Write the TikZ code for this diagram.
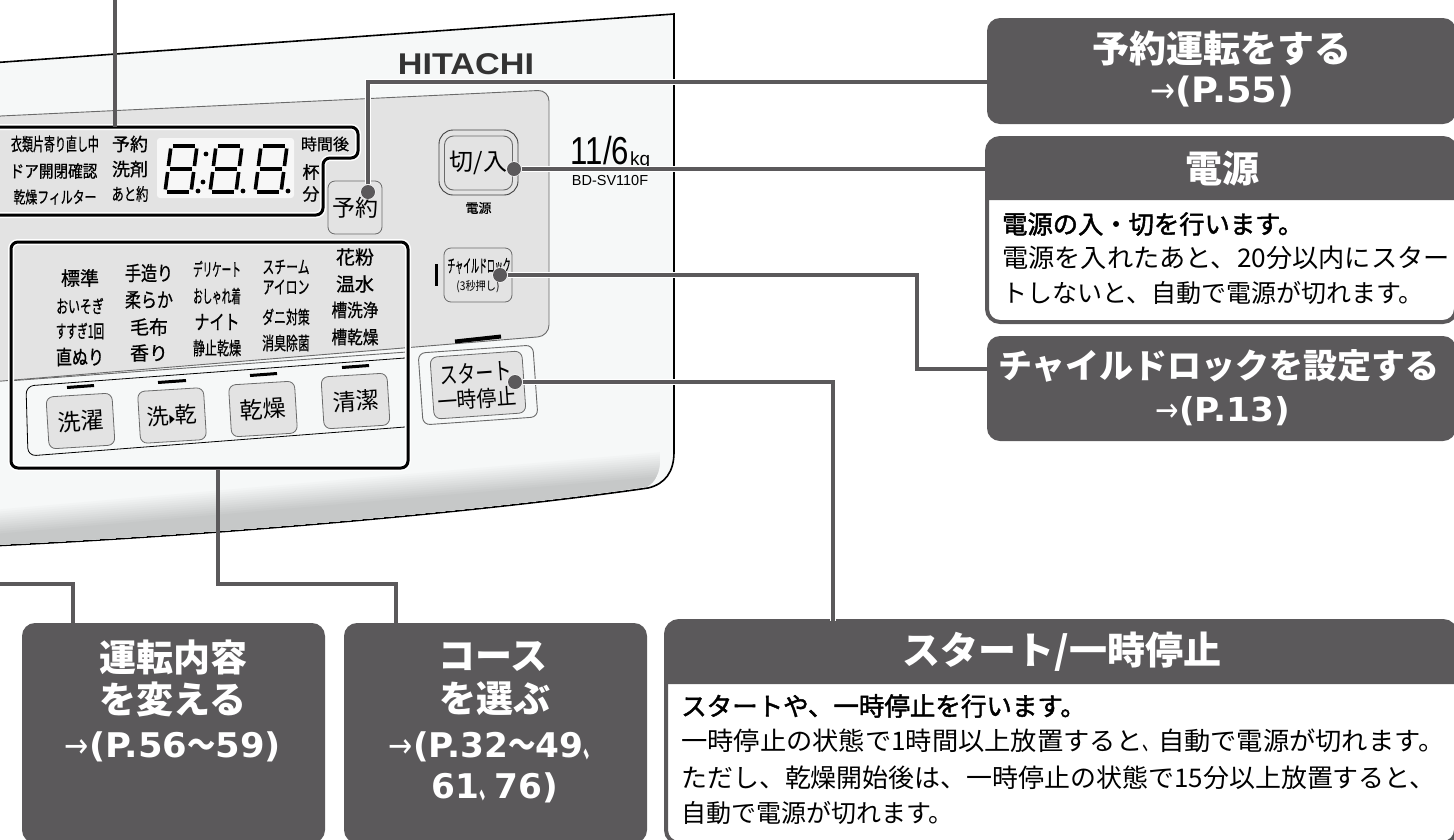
\documentclass[tikz,border=0pt]{standalone}
\usepackage{fontspec}
\setmainfont{Noto Sans CJK JP}
\newfontfamily\latinfont{Liberation Sans}
\newfontfamily\symfont{DejaVu Sans}
\newfontfamily\panelfont[FakeBold=0.8]{Noto Sans CJK JP}
\newfontfamily\medfont[FakeBold=1.8]{Noto Sans CJK JP}
\newcommand{\fs}[1]{\fontsize{#1}{#1}\selectfont}
\newcommand{\pf}[1]{\panelfont\fontsize{#1}{#1}\selectfont}
\newcommand{\nrw}[2]{\scalebox{#1}[1]{#2}}
\newcommand{\ltn}[1]{{\symfont\bfseries #1}}
\newcommand{\arw}{{\mdseries\symfont\nrw{.85}{→}}}
\newcommand{\segdigit}[2]{%
\foreach \ax/\ay/\bx/\by in {3.5/1.8/26/1.8,3.5/25/26/25,3.5/48.2/26/48.2,1.8/4.5/1.8/22,1.8/28/1.8/45.5,27.8/4.5/27.8/22,27.8/28/27.8/45.5}{%
\draw[segline] ({#1+\ax+(50-\ay)*.13},{#2+\ay}) -- ({#1+\bx+(50-\by)*.13},{#2+\by});}}
\definecolor{darkbox}{HTML}{5B595B}
\definecolor{panelfill}{HTML}{F6F8F8}
\definecolor{panelgray}{HTML}{E3E3E3}
\definecolor{shadowgray}{HTML}{C6C8C8}
\definecolor{btnline}{HTML}{6A6A6A}
\tikzset{
 lab/.style={inner sep=0pt,text=black},
 btn/.style={draw=btnline,fill=panelgray,line width=0.8pt,rounded corners=7pt,inner sep=0pt},
 bar/.style={black,line width=3pt},
 segline/.style={black,line width=3.6pt},
 conn/.style={darkbox,line width=3.2pt,preaction={draw=white,line width=6pt}},
 plainconn/.style={darkbox,line width=3.2pt},
 knob/.style={circle,fill=darkbox,draw=white,line width=1.2pt,minimum size=14pt,inner sep=0pt},
 frameline/.style={black,line width=3pt,rounded corners=7pt,preaction={draw=white,line width=6pt}},
 darkhead/.style={rectangle,fill=darkbox,rounded corners=13pt,inner sep=0pt},
 whitebox/.style={rectangle,draw=darkbox,fill=white,line width=4pt,rounded corners=13pt,inner sep=0pt},
 headtxt/.style={inner sep=0pt,text=white,font=\bfseries},
}
\begin{document}
\begin{tikzpicture}[x=1pt,y=-1pt]
\useasboundingbox (0,0) rectangle (1454,839);
\fill[white] (0,0) rectangle (1454,839);
\draw[black,fill=panelfill,line width=1.6pt] (-10,63) -- (674,14) -- (674,452) .. controls (674,472) and (665,484) .. (648,488) .. controls (480,512) and (220,535) .. (-10,546) -- cycle;
\begin{scope}
\clip (-10,495) -- (660,440) -- (660,458) .. controls (660,472) and (655,482) .. (647,486.5) .. controls (480,511) and (220,534) .. (-10,545) -- cycle;
\foreach \i in {0,...,12}{
\pgfmathsetmacro{\pct}{\i*100/12}
\fill[shadowgray!\pct!panelfill] (-10,{508+\i*2.2}) -- (660,{450+\i*2.2}) -- (660,600) -- (-10,600) -- cycle;
}
\end{scope}
\draw[btnline,fill=panelgray,line width=0.9pt,rounded corners=11pt] (-10,116.5) -- (549,90) -- (549,336) -- (-10,382) -- cycle;
\fill[panelfill] (407,352) -- (14,380.5) -- (14,388) -- (407,362) -- cycle;
\draw[btnline,line width=0.9pt] (14,380.5) -- (407,352);
\draw[black,fill=panelfill,line width=0.8pt,rounded corners=8pt] (405,358) -- (26,386) -- (28,456) -- (405,427);
\node[inner sep=0pt,text=black!80,font=\latinfont\bfseries\fs{30}] (logo) at (466,64) {\nrw{1.14}{HITACHI}};
\node[lab,font=\latinfont\fs{39}] (modelsize) at (600,151) {\nrw{.8}{11/6}};
\node[lab,font=\latinfont\fs{19},anchor=west] (modelkg) at (630,161) {kg};
\node[lab,font=\latinfont\fs{14.5}] (modelname) at (610,181) {BD-SV110F};
\draw[frameline] (-10,127) -- (358,127) -- (358,158) -- (323,158) -- (323,215) -- (-10,215);
\node[fill=white!70!panelgray,rounded corners=3pt,minimum width=137pt,minimum height=60pt,inner sep=0pt] (disp) at (225.5,168) {};
\segdigit{163}{144}
\segdigit{208}{144}
\segdigit{253}{144}
\foreach \cx/\cy in {206/154,203/182,198/191,243/191,288/191}{
\fill[black] (\cx,\cy) circle (2.4pt);
}
\node[lab,font=\pf{18}] (d1) at (55,144) {\nrw{.61}{衣類片寄り直し中}};
\node[lab,font=\pf{17}] (d2) at (53.5,171) {\nrw{.86}{ドア開閉確認}};
\node[lab,font=\pf{16.5}] (d3) at (55,197) {\nrw{.72}{乾燥フィルター}};
\node[lab,font=\pf{18}] (d4) at (130,144) {予約};
\node[lab,font=\pf{18}] (d5) at (130,169) {洗剤};
\node[lab,font=\pf{17}] (d6) at (130,194) {\nrw{.72}{あと約}};
\node[lab,font=\pf{16}] (d7) at (325,144) {時間後};
\node[lab,font=\pf{17}] (d8) at (311,172) {杯};
\node[lab,font=\pf{17}] (d9) at (311,194) {分};
\node[lab,font=\pf{19}] (c1a) at (80,278) {標準};
\node[lab,font=\pf{18}] (c1b) at (80,306) {\nrw{.66}{おいそぎ}};
\node[lab,font=\pf{18}] (c1c) at (80,331) {\nrw{.59}{すすぎ1回}};
\node[lab,font=\pf{20}] (c1d) at (80,357) {\nrw{.8}{直ぬり}};
\node[lab,font=\pf{20}] (c2a) at (149,273) {\nrw{.8}{手造り}};
\node[lab,font=\pf{20}] (c2b) at (149,300) {\nrw{.8}{柔らか}};
\node[lab,font=\pf{19}] (c2c) at (149,327) {毛布};
\node[lab,font=\pf{19}] (c2d) at (149,353) {香り};
\node[lab,font=\pf{18}] (c3a) at (217,269) {\nrw{.53}{デリケート}};
\node[lab,font=\pf{18}] (c3b) at (217,296) {\nrw{.53}{おしゃれ着}};
\node[lab,font=\pf{20}] (c3c) at (217,322) {\nrw{.75}{ナイト}};
\node[lab,font=\pf{18}] (c3d) at (217,348) {\nrw{.67}{静止乾燥}};
\node[lab,font=\pf{18}] (c4a) at (286,267) {\nrw{.66}{スチーム}};
\node[lab,font=\pf{18}] (c4b) at (286,287) {\nrw{.66}{アイロン}};
\node[lab,font=\pf{18}] (c4c) at (286,317) {\nrw{.66}{ダニ対策}};
\node[lab,font=\pf{18}] (c4d) at (286,343) {\nrw{.66}{消臭除菌}};
\node[lab,font=\pf{19}] (c5a) at (355,257) {花粉};
\node[lab,font=\pf{19}] (c5b) at (355,284) {温水};
\node[lab,font=\pf{18}] (c5c) at (355,310) {\nrw{.87}{槽洗浄}};
\node[lab,font=\pf{18}] (c5d) at (355,337) {\nrw{.87}{槽乾燥}};
\draw[bar] (67,387.5) -- (94,385.5);
\draw[bar] (158,382.5) -- (186,380.5);
\draw[bar] (250,375.5) -- (277,373.5);
\draw[bar] (342,367.5) -- (369,365.5);
\node[btn,minimum width=66pt,minimum height=52pt,rotate=3.5,font=\fs{23}] (wash) at (80.5,421) {洗濯};
\node[btn,minimum width=66pt,minimum height=52pt,rotate=3.5,font=\fs{22}] (washdry) at (172,415.5) {洗\nrw{.6}{\symfont\fontsize{18}{18}\selectfont ▸}乾};
\node[btn,minimum width=66pt,minimum height=52pt,rotate=3.5,font=\fs{23}] (dry) at (263,409) {乾燥};
\node[btn,minimum width=66pt,minimum height=52pt,rotate=3.5,font=\fs{23}] (clean) at (355.5,401) {清潔};
\draw[frameline] (11,242) rectangle (408,468);
\node[btn,minimum width=54pt,minimum height=53pt,font=\fs{23}] (yoyaku) at (355,207.5) {\raisebox{-3pt}{予約}};
\node[draw=black!75,fill=panelgray,line width=0.9pt,rounded corners=14pt,minimum width=79pt,minimum height=65pt] (power) at (478.5,162.5) {};
\node[draw=btnline,line width=0.9pt,rounded corners=9pt,minimum width=68pt,minimum height=54pt,font=\fs{24},inner sep=0pt] (powerin) at (478.5,163) {切/入};
\node[lab,font=\pf{13}] (powerlab) at (478.5,208) {電源};
\fill[black] (434.5,264) rectangle (438,286);
\node[btn,minimum width=68pt,minimum height=54pt] (lock) at (478,275) {};
\node[lab,font=\pf{18}] (locka) at (479,266) {\nrw{.44}{チャイルドロック}};
\node[lab,font=\fs{12}] (lockb) at (478,287) {\nrw{.85}{(3秒押し)}};
\draw[bar,line width=4pt] (455,341.5) -- (501,336.5);
\node[draw=btnline,fill=panelfill,line width=0.9pt,rounded corners=7pt,minimum width=115pt,minimum height=72pt,rotate=4] (startout) at (478,385) {};
\node[btn,minimum width=92pt,minimum height=62pt,rotate=4] (start) at (478,385) {};
\node[lab,font=\fs{24},rotate=4] (starta) at (476,373) {\nrw{.75}{スタート}};
\node[lab,font=\fs{22},rotate=4] (startb) at (477,399) {\nrw{.9}{一時停止}};
\node[knob] (dotyoyaku) at (368,192) {};
\node[knob] (dotpower) at (514,169) {};
\node[knob] (dotlock) at (500,275) {};
\node[knob] (dotstart) at (515,382) {};
\coordinate (topend) at (115,-5);
\coordinate (dispfoot) at (115,127);
\coordinate (leftend) at (-5,584);
\coordinate (leftbend) at (73,584);
\coordinate (coursefoot) at (218,469);
\coordinate (coursebend) at (218,584);
\coordinate (coursebend2) at (396,584);
\node[darkhead,minimum width=469pt,minimum height=106pt] (boxyoyaku) at (1221.5,71) {};
\node[darkhead,minimum width=469pt,minimum height=105pt] (boxlock) at (1221.5,388.5) {};
\node[darkhead,minimum width=303pt,minimum height=220pt] (boxcontent) at (173.5,733) {};
\node[darkhead,minimum width=303pt,minimum height=220pt] (boxcourse) at (495.5,733) {};
\node[whitebox,minimum width=469pt,minimum height=184pt] (boxpower) at (1221.5,230) {};
\fill[darkbox] (987,200) [rounded corners=12pt] -- (987,137) -- (1456,137) [sharp corners] -- (1456,200) -- cycle;
\node[whitebox,minimum width=790pt,minimum height=222pt] (boxstart) at (1061,732) {};
\fill[darkbox] (666,684) [rounded corners=12pt] -- (666,621) -- (1456,621) [sharp corners] -- (1456,684) -- cycle;
\draw[plainconn] (topend) -- (dispfoot);
\draw[conn] (dotyoyaku) -- (368,82) -- (boxyoyaku.west |- 0,82);
\draw[conn] (dotpower) -- (boxpower.west |- dotpower);
\draw[conn] (dotlock) -- (917,275) -- (917,369) -- (boxlock.west |- 0,369);
\draw[conn] (dotstart) -- (833,382) -- (833,621);
\draw[plainconn] (leftend) -- (leftbend) -- (leftbend |- boxcontent.north);
\draw[plainconn] (coursefoot) -- (coursebend) -- (coursebend2) -- (coursebend2 |- boxcourse.north);
\node[knob,draw=none] (dotyoyakutop) at (368,192) {};
\node[knob,draw=none] (dotpowertop) at (514,169) {};
\node[knob,draw=none] (dotlocktop) at (500,275) {};
\node[knob,draw=none] (dotstarttop) at (515,382) {};
\node[headtxt,font=\bfseries\fs{37}] (ya) at (1222,48) {予約運転をする};
\node[headtxt,font=\bfseries\fs{35}] (yb) at (1222,92) {\arw\nrw{1.05}{\ltn{(P.55)}}};
\node[headtxt,font=\bfseries\fs{37}] (pa) at (1222,169) {電源};
\node[lab,anchor=west,font=\medfont\fs{25.3}] (pb) at (1002,224) {電源の入・切を行います。};
\node[lab,anchor=west,font=\fs{25.7}] (pc) at (1002,258) {\nrw{1.02}{電源を入れたあと、20分以内にスター}};
\node[lab,anchor=west,font=\fs{25}] (pd) at (1002,293) {トしないと、自動で電源が切れます。};
\node[headtxt,font=\bfseries\fs{34}] (la) at (1219,366) {チャイルドロックを設定する};
\node[headtxt,font=\bfseries\fs{33}] (lb) at (1223,411) {\arw\nrw{1.04}{\ltn{(P.13)}}};
\node[headtxt,font=\bfseries\fs{37}] (ua) at (173,657) {運転内容};
\node[headtxt,font=\bfseries\fs{37}] (ub) at (173,699) {を変える};
\node[headtxt,font=\bfseries\fs{34}] (uc) at (173,747) {\arw\nrw{1.04}{\ltn{(P.56}\nrw{.8}{〜}\ltn{59)}}};
\node[headtxt,font=\bfseries\fs{37}] (ca) at (493,657) {コース};
\node[headtxt,font=\bfseries\fs{37}] (cb) at (495,699) {を選ぶ};
\node[headtxt,font=\bfseries\fs{34}] (cc) at (494,747) {\arw\nrw{1.01}{\ltn{(P.32}\nrw{.8}{〜}\ltn{49}\nrw{.45}{、}}};
\node[headtxt,font=\bfseries\fs{34}] (cd) at (495,788) {\nrw{1.01}{\ltn{61}\nrw{.45}{、}\ltn{76)}}};
\node[headtxt,font=\bfseries\fs{38}] (sa) at (1062,652) {スタート/一時停止};
\node[lab,anchor=west,font=\medfont\fs{25.5}] (sb) at (681,706) {スタートや、一時停止を行います。};
\node[lab,anchor=west,font=\fs{25.5}] (sc) at (681,741) {\nrw{1.03}{一時停止の状態で1時間以上放置すると\nrw{.6}{、}自動で電源が切れます。}};
\node[lab,anchor=west,font=\fs{25.7}] (sd) at (681,778) {\nrw{1.01}{ただし、乾燥開始後は、一時停止の状態で15分以上放置すると、}};
\node[lab,anchor=west,font=\fs{25}] (se) at (681,813) {自動で電源が切れます。};
\end{tikzpicture}
\end{document}
